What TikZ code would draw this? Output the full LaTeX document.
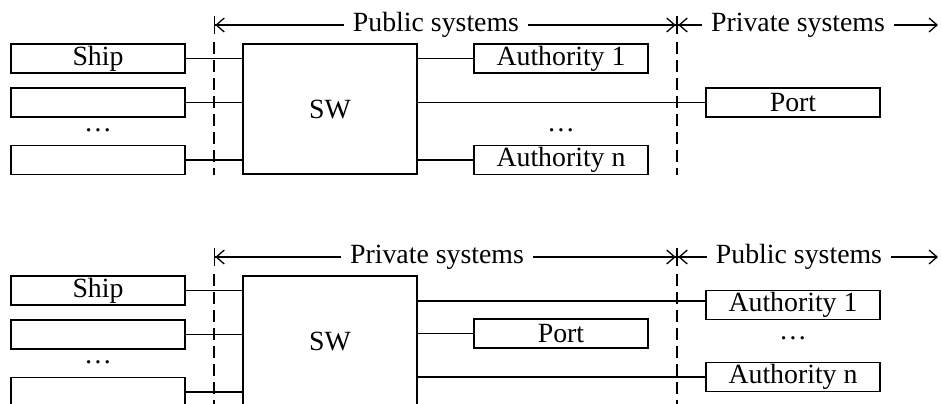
\documentclass[tikz,border=0pt]{standalone}
\usepackage{fontspec}
\setmainfont{Liberation Serif}
\usepackage{tikz}
\usetikzlibrary{positioning}
\usetikzlibrary{arrows.meta}

\tikzset{
  sysbox/.style={draw, line width=0.65pt, minimum width=87pt, minimum height=14.5pt, inner sep=0pt},
  swbox/.style={draw, line width=0.65pt, minimum width=87pt, minimum height=65pt, inner sep=0pt},
  link/.style={line width=0.65pt},
  divider/.style={line width=0.65pt, dash pattern=on 6pt off 3pt},
  zone/.style={fill=white, inner xsep=4.5pt, inner ysep=1pt},
  sysspan/.style={line width=0.65pt, {Bar[width=9pt]Straight Barb[length=4pt,width=7pt]}-{Straight Barb[length=4pt,width=7pt]Bar[width=9pt]}},
  sysspanend/.style={line width=0.65pt, {Bar[width=9pt]Straight Barb[length=4pt,width=7pt]}-{Straight Barb[length=4pt,width=7pt]}}
}

\begin{document}
\begin{tikzpicture}[x=0.5pt, y=-0.5pt, font=\fontsize{13.9pt}{16pt}\selectfont]
\useasboundingbox (0,0) rectangle (942,403);
\clip (0,0) rectangle (942,403);

% upper case: public systems between the dividers
\node (ship1) [sysbox] at (98,58.5) {Ship};
\node (vessel1) [sysbox, below of=ship1, node distance=22pt] {};
\node (shipdots1) at (98,130) {…};
\node (vesseln1) [sysbox] at (98,160) {};
\node (sw1) [swbox] at (330,109) {SW};
\node (auth11) [sysbox] at (561,58.5) {Authority 1};
\node (authdots1) at (561,130) {…};
\node (auth1n) [sysbox] at (561,160) {Authority n};
\node (port1) [sysbox] at (793,102.5) {Port};

\coordinate (left1) at (214,25);
\coordinate (mid1) at (677,25);
\coordinate (right1) at (938,25);

\draw [divider] ([yshift=-8.5pt]left1) -- (left1 |- vesseln1.south);
\draw [divider] ([yshift=-8.5pt]mid1) -- (mid1 |- vesseln1.south);
\draw [sysspan] (left1) -- (mid1);
\draw [sysspanend] (mid1) -- (right1);
\node (zone11) [zone] at (436,25) {Public systems};
\node (zone12) [zone] at (798,25) {Private systems};

\draw [link] (ship1) -- (ship1 -| sw1.west);
\draw [link] (vessel1) -- (vessel1 -| sw1.west);
\draw [link] (vesseln1) -- (vesseln1 -| sw1.west);
\draw [link] (sw1.east |- auth11) -- (auth11);
\draw [link] (sw1.east |- auth1n) -- (auth1n);
\draw [link] (sw1.east |- port1) -- (port1);

% lower case: private systems between the dividers
\node (ship2) [sysbox] at (98,290.5) {Ship};
\node (vessel2) [sysbox, below of=ship2, node distance=22pt] {};
\node (shipdots2) at (98,362) {…};
\node (vesseln2) [sysbox] at (98,392) {};
\node (sw2) [swbox] at (330,341) {SW};
\node (port2) [sysbox] at (561,333.5) {Port};
\node (auth21) [sysbox] at (793,305) {Authority 1};
\node (authdots2) at (793,338) {…};
\node (auth2n) [sysbox] at (793,377) {Authority n};

\coordinate (left2) at (214,257);
\coordinate (mid2) at (677,257);
\coordinate (right2) at (938,257);

\draw [divider] ([yshift=-8.5pt]left2) -- (left2 |- vesseln2.south);
\draw [divider] ([yshift=-8.5pt]mid2) -- (mid2 |- vesseln2.south);
\draw [sysspan] (left2) -- (mid2);
\draw [sysspanend] (mid2) -- (right2);
\node (zone21) [zone] at (437,257) {Private systems};
\node (zone22) [zone] at (799,257) {Public systems};

\draw [link] (ship2) -- (ship2 -| sw2.west);
\draw [link] (vessel2) -- (vessel2 -| sw2.west);
\draw [link] (vesseln2) -- (vesseln2 -| sw2.west);
\draw [link] ([yshift=2pt]auth21.west) -- ([yshift=2pt]auth21.west -| sw2.east);
\draw [link] (sw2.east |- port2) -- (port2);
\draw [link] (sw2.east |- auth2n) -- (auth2n);

\end{tikzpicture}
\end{document}
